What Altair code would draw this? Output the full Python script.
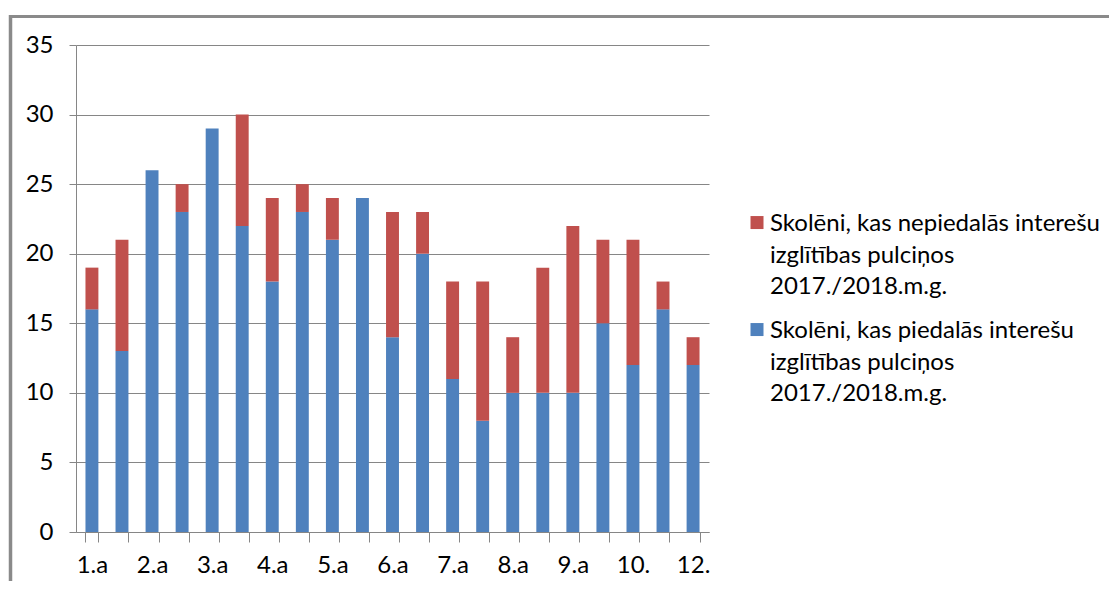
import altair as alt
import pandas as pd

classes = ["1.a", "1.b", "2.a", "2.b", "3.a", "3.b", "4.a", "4.b", "5.a", "5.b",
           "6.a", "6.b", "7.a", "7.b", "8.a", "8.b", "9.a", "9.b", "10.", "11.", "12."]
shown_labels = ["1.a", "2.a", "3.a", "4.a", "5.a", "6.a", "7.a", "8.a", "9.a", "10.", "12."]

participating = [16, 13, 26, 23, 29, 22, 18, 23, 21, 24, 14, 20, 11, 8, 10, 10, 10, 15, 12, 16, 12]
not_participating = [3, 8, 0, 2, 0, 8, 6, 2, 3, 0, 9, 3, 7, 10, 4, 9, 12, 6, 9, 2, 2]

s_not = "Skolēni, kas nepiedalās interešu\nizglītības pulciņos\n2017./2018.m.g."
s_yes = "Skolēni, kas piedalās interešu\nizglītības pulciņos\n2017./2018.m.g."

rows = []
for c, p, n in zip(classes, participating, not_participating):
    rows.append({"klase": c, "serija": s_yes, "skaits": p, "ord": 0})
    rows.append({"klase": c, "serija": s_not, "skaits": n, "ord": 1})
df = pd.DataFrame(rows)

FONT = "Lato"
GRAY = "#868686"

label_list = "[" + ",".join("'" + s + "'" for s in shown_labels) + "]"

bars = alt.Chart(df).mark_bar().encode(
    x=alt.X("klase:N", sort=classes, title=None,
            scale=alt.Scale(paddingInner=0.57, paddingOuter=0.315),
            axis=alt.Axis(labelAngle=0, tickBand="extent", tickSize=10,
                          labelPadding=11, grid=False,
                          labelExpr="indexof(" + label_list + ", datum.value) >= 0 ? datum.value : ''")),
    y=alt.Y("skaits:Q", stack="zero", title=None,
            scale=alt.Scale(domain=[0, 35], nice=False),
            axis=alt.Axis(values=[0, 5, 10, 15, 20, 25, 30, 35], tickSize=7,
                          labelPadding=16, grid=True)),
    color=alt.Color("serija:N", title=None,
                    scale=alt.Scale(domain=[s_not, s_yes], range=["#C0504D", "#4F81BD"]),
                    legend=alt.Legend(orient="none", legendX=669, legendY=174,
                                      labelExpr="split(datum.label, '\\n')",
                                      labelLimit=600, labelFontSize=24, labelFont=FONT,
                                      labelBaseline="alphabetic", labelOffset=1,
                                      symbolType="M-1,-2.3H1V-0.3H-1Z", symbolSize=169,
                                      symbolStrokeWidth=0, rowPadding=20, padding=0)),
    order=alt.Order("ord:Q"),
)

one = alt.Data(values=[{}])
top_border = alt.Chart(one).mark_rule(color="#8a8a8a", strokeWidth=3, clip=False).encode(
    x=alt.value(-66), x2=alt.value(1100), y=alt.value(-28.5))
left_border = alt.Chart(one).mark_rule(color="#8a8a8a", strokeWidth=3.5, clip=False).encode(
    x=alt.value(-65.5), y=alt.value(-30), y2=alt.value(600))

chart = alt.layer(bars, top_border, left_border).properties(
    width=633, height=487,
    autosize=alt.AutoSizeParams(type="none"),
    padding={"left": 68, "top": 37, "right": 400, "bottom": 49},
).configure(
    style={"guide-label": {"lineHeight": 31.5}}
).configure_view(stroke=None).configure_axis(
    domainColor=GRAY, gridColor=GRAY, tickColor=GRAY,
    labelFont=FONT, labelFontSize=24, labelColor="#000000",
).configure_legend(labelColor="#000000")

chart.save("out.html", embed_options={"renderer": "svg", "actions": False})
